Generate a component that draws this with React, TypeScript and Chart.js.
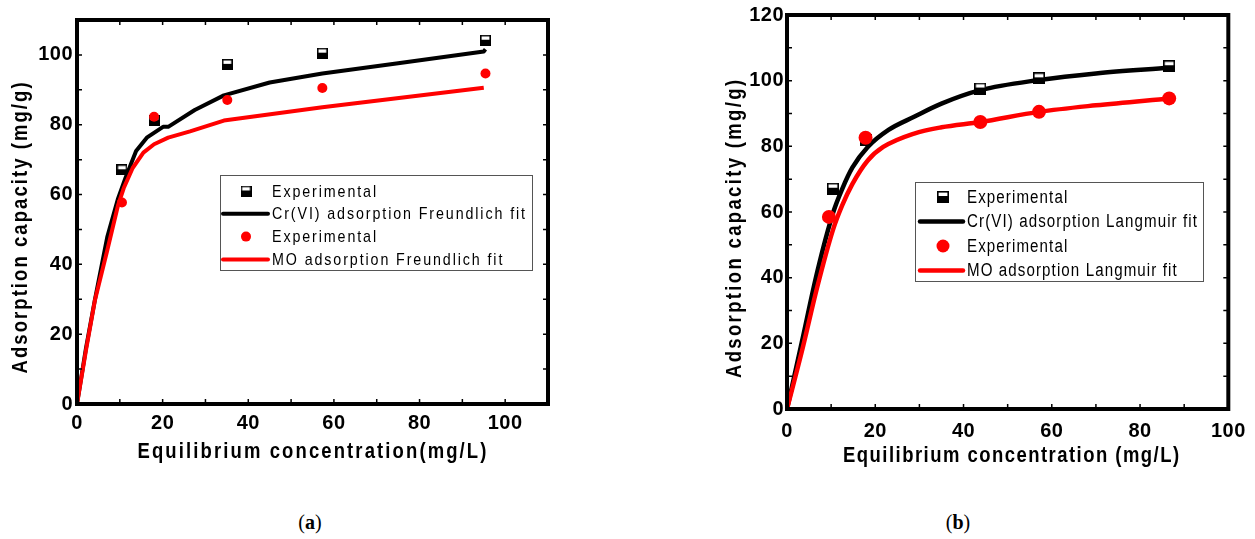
import React, { useEffect, useRef } from "react";
import { Chart, registerables } from "chart.js";

Chart.register(...registerables);

const NARROW = '"Liberation Sans Narrow", "Arial Narrow", "Liberation Sans", Arial, sans-serif';
const TICK_SPACING = "0.5px";
const CONDENSE = 0.84;

// ---------- Panel (a): Freundlich ----------
const aXTickLabels = [0, 20, 40, 60, 80, 100];
const aYTickLabels = [0, 20, 40, 60, 80, 100];
const aMinorX = [10, 20, 30, 40, 50, 60, 70, 80, 90, 100];
const aMinorY = [10, 20, 30, 40, 50, 60, 70, 80, 90, 100];
const aCrExpX = [10.5, 18.0, 35.1, 57.3, 95.4];
const aCrExpY = [67.1, 81.2, 97.3, 100.5, 104.2];
const aMoExpX = [10.5, 18.0, 35.1, 57.3, 95.4];
const aMoExpY = [57.7, 82.3, 87.1, 90.5, 94.7];
const aCrFitX = [0, 2.1, 4.2, 7.1, 9.6, 11.3, 13.8, 16.3, 20.1, 21.3, 27.5, 34.3, 45, 57.3, 75, 95.0, 95.4];
const aCrFitY = [0, 16, 30, 48, 58.9, 64.7, 72.5, 76.3, 79.4, 79.4, 84.2, 88.4, 92.1, 94.7, 97.6, 101.0, 101.6];
const aMoFitX = [0, 2.1, 4.2, 7.1, 9.6, 10.9, 13, 15.5, 18, 21.3, 26.4, 34.3, 57.3, 95.0];
const aMoFitY = [0, 15.4, 29.8, 44.2, 57.0, 61.8, 67.6, 72.0, 74.4, 76.3, 78.1, 81.2, 85.0, 90.6];
const aLegendLabels = ["Experimental", "Cr(VI) adsorption Freundlich fit", "Experimental", "MO adsorption Freundlich fit"];
const aXTitle = "Equilibrium concentration(mg/L)";
const aYTitle = "Adsorption capacity (mg/g)";

// ---------- Panel (b): Langmuir ----------
const bXTickLabels = [0, 20, 40, 60, 80, 100];
const bYTickLabels = [0, 20, 40, 60, 80, 100, 120];
const bMinorX = [10, 20, 30, 40, 50, 60, 70, 80, 90];
const bMinorY = [10, 20, 30, 40, 50, 60, 70, 80, 90, 100, 110];
const bCrExpX = [10.4, 17.8, 43.8, 57.1, 86.6];
const bCrExpY = [67.1, 81.9, 97.6, 100.7, 104.4];
const bMoExpX = [9.5, 17.8, 43.8, 57.1, 86.6];
const bMoExpY = [58.5, 82.6, 87.4, 90.5, 94.6];
const bCrFitX = [0, 3.3, 6.9, 10.5, 12.5, 14.8, 18.3, 23, 28.8, 35, 43.8, 57.1, 70, 86.6];
const bCrFitY = [0, 20, 42, 60, 67, 73.5, 79.8, 85, 89, 93, 97.1, 100.2, 102.2, 103.9];
const bMoFitX = [0, 3.3, 6.9, 10.4, 12.5, 14.8, 18.3, 21.8, 28.8, 35, 43.8, 57.1, 70, 86.6];
const bMoFitY = [0, 17.2, 37.4, 54.5, 62, 68.5, 75.7, 79.8, 83.9, 85.8, 87.4, 90.5, 92.5, 94.6];
const bLegendLabels = ["Experimental", "Cr(VI) adsorption Langmuir fit", "Experimental", "MO adsorption Langmuir fit"];
const bXTitle = "Equilibrium concentration (mg/L)";
const bYTitle = "Adsorption capacity (mg/g)";

const captions = ["a", "b"];

type Layout = {
  canvasLeft: number; canvasWidth: number; canvasHeight: number;
  yAxisWidth: number; xAxisHeight: number; padTop: number; padRight: number;
  xMax: number; yMax: number;
  xTitleCenter: [number, number]; xTitleWidth: number;
  yTitleCenter: [number, number]; yTitleLength: number;
  legendBox: [number, number, number, number];
  legendRowY0: number; legendRowStep: number;
  legendLineX: [number, number]; legendMarkerX: number; legendTextX: number; legendTextWidth: number;
  legendFontSize: number; legendCircleR: number; markerSize: number; circleR: number;
  tickPadX: number; tickPadY: number; lineWidth: number; tension: number;
};

const layoutA: Layout = {
  canvasLeft: 0, canvasWidth: 620, canvasHeight: 490,
  yAxisWidth: 77, xAxisHeight: 86, padTop: 20, padRight: 72,
  xMax: 110, yMax: 110,
  xTitleCenter: [312, 452], xTitleWidth: 349,
  yTitleCenter: [21, 228], yTitleLength: 291,
  legendBox: [220, 175, 312, 95],
  legendRowY0: 191, legendRowStep: 22.8,
  legendLineX: [223, 268], legendMarkerX: 246, legendTextX: 272, legendTextWidth: 253,
  legendFontSize: 17, legendCircleR: 5, markerSize: 11, circleR: 5,
  tickPadX: 7, tickPadY: 4, lineWidth: 4, tension: 0,
};

const layoutB: Layout = {
  canvasLeft: 620, canvasWidth: 635, canvasHeight: 490,
  yAxisWidth: 167, xAxisHeight: 81, padTop: 14, padRight: 22,
  xMax: 100, yMax: 120,
  xTitleCenter: [391, 456], xTitleWidth: 336,
  yTitleCenter: [115, 229], yTitleLength: 298,
  legendBox: [295, 182, 288, 99],
  legendRowY0: 197, legendRowStep: 24.5,
  legendLineX: [300, 343], legendMarkerX: 323, legendTextX: 347, legendTextWidth: 230,
  legendFontSize: 18, legendCircleR: 6.5, markerSize: 12, circleR: 7,
  tickPadX: 10, tickPadY: 3, lineWidth: 4.5, tension: 0.25,
};

function makeHalfSquare(size: number): HTMLCanvasElement {
  const c = document.createElement("canvas");
  c.width = size;
  c.height = size;
  const g = c.getContext("2d")!;
  g.fillStyle = "#fff";
  g.fillRect(0, 0, size, size);
  g.fillStyle = "#000";
  g.fillRect(0, Math.round(size * 0.45), size, size - Math.round(size * 0.45));
  g.strokeStyle = "#000";
  g.lineWidth = 1.6;
  g.strokeRect(0.8, 0.8, size - 1.6, size - 1.6);
  return c;
}

// Draws text with glyphs condensed horizontally and spaced to fill a target width.
function drawSpaced(ctx: CanvasRenderingContext2D, text: string, font: string, cx: number, cy: number, target: number, align: "center" | "left", spacingOverride?: number) {
  ctx.save();
  ctx.font = font;
  (ctx as any).letterSpacing = "0px";
  const w0 = ctx.measureText(text).width;
  const n = Math.max(1, text.length - 1);
  const s = spacingOverride !== undefined ? spacingOverride : (target / CONDENSE - w0) / n;
  const x = align === "center" ? cx - target / 2 : cx;
  ctx.translate(x, cy);
  ctx.scale(CONDENSE, 1);
  (ctx as any).letterSpacing = s.toFixed(2) + "px";
  ctx.textAlign = "left";
  ctx.fillText(text, 0, 0);
  ctx.restore();
}

const toPts = (xs: number[], ys: number[]) => xs.map((x, i) => ({ x, y: ys[i] }));

function buildConfig(
  L: Layout,
  xTicks: number[], yTicks: number[], xMinor: number[], yMinor: number[],
  crExpX: number[], crExpY: number[], moExpX: number[], moExpY: number[],
  crFitX: number[], crFitY: number[], moFitX: number[], moFitY: number[],
  labels: string[], xTitle: string, yTitle: string
): any {
  const square = makeHalfSquare(L.markerSize);
  const decor = {
    id: "decor",
    beforeDraw(chart: any) {
      chart.ctx.letterSpacing = TICK_SPACING;
    },
    afterDraw(chart: any) {
      const ctx: CanvasRenderingContext2D = chart.ctx;
      const a = chart.chartArea;
      const xs = chart.scales.x;
      const ys = chart.scales.y;
      ctx.save();
      ctx.strokeStyle = "#000";
      ctx.lineWidth = 1.5;
      ctx.beginPath();
      for (const v of xMinor) {
        const p = xs.getPixelForValue(v);
        ctx.moveTo(p, a.bottom); ctx.lineTo(p, a.bottom - 5);
        ctx.moveTo(p, a.top); ctx.lineTo(p, a.top + 5);
      }
      for (const v of yMinor) {
        const p = ys.getPixelForValue(v);
        ctx.moveTo(a.left, p); ctx.lineTo(a.left + 5, p);
        ctx.moveTo(a.right, p); ctx.lineTo(a.right - 5, p);
      }
      ctx.stroke();
      ctx.lineWidth = 4;
      ctx.strokeRect(a.left, a.top, a.right - a.left, a.bottom - a.top);

      // axis titles
      const titleFont = `bold 22px ${NARROW}`;
      ctx.fillStyle = "#000";
      ctx.textBaseline = "middle";
      drawSpaced(ctx, xTitle, titleFont, L.xTitleCenter[0], L.xTitleCenter[1], L.xTitleWidth, "center");
      ctx.save();
      ctx.translate(L.yTitleCenter[0], L.yTitleCenter[1]);
      ctx.rotate(-Math.PI / 2);
      drawSpaced(ctx, yTitle, titleFont, 0, 0, L.yTitleLength, "center");
      ctx.restore();

      // legend
      const [bx, by, bw, bh] = L.legendBox;
      ctx.lineWidth = 1;
      ctx.strokeStyle = "#555";
      ctx.strokeRect(bx + 0.5, by + 0.5, bw, bh);
      const legendFont = `${L.legendFontSize}px ${NARROW}`;
      ctx.font = legendFont;
      (ctx as any).letterSpacing = "0px";
      let longest = "";
      chart.data.datasets.forEach((d: any) => { if (d.label.length > longest.length) longest = d.label; });
      const w0 = ctx.measureText(longest).width;
      const sp = (L.legendTextWidth / CONDENSE - w0) / Math.max(1, longest.length - 1);
      chart.data.datasets.forEach((d: any, i: number) => {
        const y = L.legendRowY0 + i * L.legendRowStep;
        if (d.showLine) {
          ctx.strokeStyle = d.borderColor;
          ctx.lineWidth = d.borderWidth;
          ctx.lineCap = "round";
          ctx.beginPath();
          ctx.moveTo(L.legendLineX[0], y);
          ctx.lineTo(L.legendLineX[1], y);
          ctx.stroke();
        } else if (typeof d.pointStyle === "object") {
          const img = d.pointStyle as HTMLCanvasElement;
          ctx.drawImage(img, L.legendMarkerX - img.width / 2, y - img.height / 2);
        } else {
          ctx.fillStyle = d.backgroundColor;
          ctx.beginPath();
          ctx.arc(L.legendMarkerX, y, L.legendCircleR, 0, Math.PI * 2);
          ctx.fill();
        }
        ctx.fillStyle = "#000";
        ctx.textBaseline = "middle";
        drawSpaced(ctx, d.label, legendFont, L.legendTextX, y + 1, 0, "left", sp);
      });
      ctx.restore();
    },
  };

  const tickFont = { family: NARROW, size: 20, weight: "bold" as const };

  return {
    type: "scatter",
    data: {
      datasets: [
        { label: labels[0], data: toPts(crExpX, crExpY), showLine: false, pointStyle: square, pointRadius: L.markerSize / 2, borderColor: "#000", backgroundColor: "#000", order: 2 },
        { label: labels[1], data: toPts(crFitX, crFitY), showLine: true, borderColor: "#000", backgroundColor: "#000", borderWidth: L.lineWidth, pointRadius: 0, tension: L.tension, cubicInterpolationMode: L.tension > 0 ? "monotone" : "default", borderJoinStyle: "round", order: 4 },
        { label: labels[2], data: toPts(moExpX, moExpY), showLine: false, pointStyle: "circle", pointRadius: L.circleR, borderWidth: 0, borderColor: "#ff0000", backgroundColor: "#ff0000", order: 1 },
        { label: labels[3], data: toPts(moFitX, moFitY), showLine: true, borderColor: "#ff0000", backgroundColor: "#ff0000", borderWidth: L.lineWidth, pointRadius: 0, tension: L.tension, cubicInterpolationMode: L.tension > 0 ? "monotone" : "default", borderJoinStyle: "round", order: 3 },
      ],
    },
    options: {
      animation: false,
      responsive: false,
      devicePixelRatio: 1,
      layout: { padding: { left: 0, top: L.padTop, right: L.padRight, bottom: 0 } },
      plugins: { legend: { display: false }, tooltip: { enabled: false }, title: { display: false } },
      scales: {
        x: {
          type: "linear", min: 0, max: L.xMax,
          grid: { display: false, drawTicks: false },
          border: { display: false },
          ticks: { font: tickFont, color: "#000", padding: L.tickPadX, maxRotation: 0 },
          afterBuildTicks: (s: any) => { s.ticks = xTicks.map((v) => ({ value: v })); },
          afterFit: (s: any) => { s.height = L.xAxisHeight; },
        },
        y: {
          type: "linear", min: 0, max: L.yMax,
          grid: { display: false, drawTicks: false },
          border: { display: false },
          ticks: { font: tickFont, color: "#000", padding: L.tickPadY },
          afterBuildTicks: (s: any) => { s.ticks = yTicks.map((v) => ({ value: v })); },
          afterFit: (s: any) => { s.width = L.yAxisWidth; },
        },
      },
    },
    plugins: [decor],
  };
}

function Panel(props: { L: Layout; cfg: () => any }) {
  const ref = useRef<HTMLCanvasElement>(null);
  useEffect(() => {
    const chart = new Chart(ref.current!, props.cfg());
    return () => chart.destroy();
  }, []);
  const L = props.L;
  return (
    <canvas
      ref={ref}
      width={L.canvasWidth}
      height={L.canvasHeight}
      style={{ position: "absolute", left: L.canvasLeft, top: 0, width: L.canvasWidth, height: L.canvasHeight }}
    />
  );
}

export default function App() {
  return (
    <div style={{ position: "absolute", left: 0, top: 0, width: 1255, height: 539, background: "#fff", overflow: "hidden" }}>
      <Panel
        L={layoutA}
        cfg={() => buildConfig(layoutA, aXTickLabels, aYTickLabels, aMinorX, aMinorY, aCrExpX, aCrExpY, aMoExpX, aMoExpY, aCrFitX, aCrFitY, aMoFitX, aMoFitY, aLegendLabels, aXTitle, aYTitle)}
      />
      <Panel
        L={layoutB}
        cfg={() => buildConfig(layoutB, bXTickLabels, bYTickLabels, bMinorX, bMinorY, bCrExpX, bCrExpY, bMoExpX, bMoExpY, bCrFitX, bCrFitY, bMoFitX, bMoFitY, bLegendLabels, bXTitle, bYTitle)}
      />
      {captions.map((c, i) => (
        <div
          key={c}
          style={{
            position: "absolute", top: 509, left: i === 0 ? 290 : 938, width: 40, textAlign: "center",
            fontFamily: '"Liberation Serif", "DejaVu Serif", serif', fontSize: 20, color: "#000", lineHeight: "26px",
          }}
        >
          (<b>{c}</b>)
        </div>
      ))}
    </div>
  );
}
